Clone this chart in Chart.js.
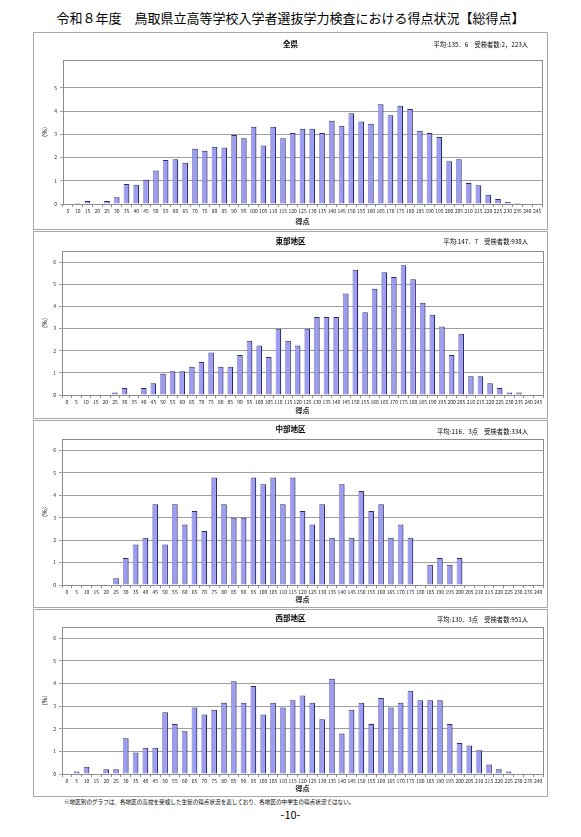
<!DOCTYPE html>
<html lang="ja">
<head>
<meta charset="utf-8">
<title>得点状況【総得点】</title>
<script src="https://cdn.jsdelivr.net/npm/chart.js@4.4.1/dist/chart.umd.min.js"></script>
<style>
  body { margin: 0; width: 581px; height: 837px; background: #fff; position: relative; overflow: hidden;
         font-family: "Noto Sans CJK JP", "Noto Sans", sans-serif; color: #000; }
  .txt { position: absolute; white-space: nowrap; line-height: 1; }
  .box { position: absolute; border: 1px solid #a8a8a8; box-sizing: border-box; }
  canvas { position: absolute; }
</style>
</head>
<body>
<div class="txt" style="left:0;width:581px;text-align:center;top:11px;font-size:13px;">令和８年度　鳥取県立高等学校入学者選抜学力検査における得点状況【総得点】</div>
<div id="panels"></div>
<div class="txt" style="left:64px;top:800px;font-size:5.6px;">※地区別のグラフは、各地区の高校を受検した生徒の得点状況を表しており、各地区の中学生の得点状況ではない。</div>
<div class="txt" style="left:0;width:581px;text-align:center;top:809px;font-size:11px;">-10-</div>

<script>
'use strict';

// tick labels (得点)
const labels5to245 = ['5','10','15','20','25','30','35','40','45','50','55','60','65','70','75','80','85','90','95','100',
    '105','110','115','120','125','130','135','140','145','150','155','160','165','170','175','180','185','190','195','200',
    '205','210','215','220','225','230','235','240','245'];
const labels0to245 = ['0','5','10','15','20','25','30','35','40','45','50','55','60','65','70','75','80','85','90','95','100',
    '105','110','115','120','125','130','135','140','145','150','155','160','165','170','175','180','185','190','195','200',
    '205','210','215','220','225','230','235','240','245'];
const labels0to240 = ['0','5','10','15','20','25','30','35','40','45','50','55','60','65','70','75','80','85','90','95','100',
    '105','110','115','120','125','130','135','140','145','150','155','160','165','170','175','180','185','190','195','200',
    '205','210','215','220','225','230','235','240'];

// (%) per score band
const zenken = [0, 0.05, 0.13, 0, 0.13, 0.29, 0.86, 0.83, 1.04, 1.44, 1.89, 1.93, 1.78, 2.38, 2.29, 2.47, 2.43,
    2.97, 2.83, 3.33, 2.52, 3.33, 2.83, 3.06, 3.24, 3.24, 3.06, 3.58, 3.37, 3.91, 3.55, 3.46, 4.30, 3.82, 4.23,
    4.09, 3.15, 3.06, 2.88, 1.84, 1.93, 0.90, 0.81, 0.40, 0.22, 0.09, 0.04, 0, 0];
const toubu = [0, 0, 0, 0, 0, 0.11, 0.32, 0, 0.32, 0.53, 0.96, 1.07, 1.07, 1.28, 1.49, 1.92, 1.28, 1.28, 1.81,
    2.45, 2.24, 1.71, 2.99, 2.45, 2.24, 2.99, 3.52, 3.52, 3.52, 4.58, 5.65, 3.73, 4.80, 5.54, 5.33, 5.86, 5.22,
    4.16, 3.62, 3.09, 1.81, 2.77, 0.85, 0.85, 0.53, 0.32, 0.11, 0.11, 0, 0];
const chubu = [0, 0, 0, 0, 0, 0.30, 1.20, 1.80, 2.10, 3.59, 1.80, 3.59, 2.69, 3.29, 2.40, 4.79, 3.59, 2.99, 2.99,
    4.79, 4.49, 4.79, 3.59, 4.79, 3.29, 2.69, 3.59, 2.10, 4.49, 2.10, 4.19, 3.29, 3.59, 2.10, 2.69, 2.10, 0,
    0.90, 1.20, 0.90, 1.20, 0, 0, 0, 0, 0, 0, 0, 0];
const seibu = [0, 0.11, 0.32, 0, 0.21, 0.21, 1.58, 0.95, 1.16, 1.16, 2.73, 2.21, 1.89, 2.94, 2.63, 2.84, 3.15,
    4.10, 3.15, 3.89, 2.63, 3.15, 2.94, 3.26, 3.47, 3.15, 2.42, 4.21, 1.79, 2.84, 3.15, 2.21, 3.36, 2.94, 3.15,
    3.68, 3.26, 3.26, 3.26, 2.21, 1.37, 1.26, 1.05, 0.42, 0.21, 0.11, 0, 0, 0];

const panelNames = ['全県', '東部地区', '中部地区', '西部地区'];
const panelInfo = ['平均:135．6　受検者数:2，223人', '平均:147．7　受検者数:938人',
    '平均:116．3点　受検者数:334人', '平均:130．3点　受検者数:951人'];
const panelLabels = [labels5to245, labels0to245, labels0to240, labels0to240];
const panelValues = [zenken, toubu, chubu, seibu];
const panelMax = [6.2, 6.5, 6.5, 6.5];

// layout: box [x, y, w, h], plot [left, top, right, bottom], title centre y
const layout = [
    { box: [33, 32, 515, 198], plot: [63, 60, 542, 204], ty: 44, iy: 45 },
    { box: [33, 231, 515, 188], plot: [62, 251, 543, 395], ty: 241, iy: 242 },
    { box: [33, 420, 515, 188], plot: [62, 439, 543, 585], ty: 429, iy: 432 },
    { box: [33, 609, 515, 188], plot: [62, 627, 543, 774], ty: 618, iy: 620 },
];

Chart.defaults.font.family = '"Noto Sans CJK JP", "Noto Sans", sans-serif';
Chart.defaults.color = '#222';

const plotFrame = {
    id: 'plotFrame',
    afterDraw(chart) {
	const a = chart.chartArea;
	const ctx = chart.ctx;
	ctx.save();
	ctx.strokeStyle = '#8c8c8c';
	ctx.lineWidth = 1;
	ctx.strokeRect(Math.round(a.left) + 0.5, Math.round(a.top) + 0.5,
		       Math.round(a.right - a.left), Math.round(a.bottom - a.top));
	ctx.restore();
    },
};

const host = document.getElementById('panels');

function addText(text, css) {
    const d = document.createElement('div');
    d.className = 'txt';
    d.textContent = text;
    Object.assign(d.style, css);
    host.appendChild(d);
}

function makePanel(i) {
    const L = layout[i];
    const [bx, by, bw, bh] = L.box;
    const [pl, pt, pr, pb] = L.plot;

    const box = document.createElement('div');
    box.className = 'box';
    Object.assign(box.style, { left: bx + 'px', top: by + 'px', width: bw + 'px', height: bh + 'px' });
    host.appendChild(box);

    const canv = document.createElement('canvas');
    canv.width = bw;
    canv.height = bh;
    Object.assign(canv.style, { left: bx + 'px', top: by + 'px', width: bw + 'px', height: bh + 'px' });
    host.appendChild(canv);

    addText(panelNames[i], { left: '0px', width: '581px', textAlign: 'center', top: (L.ty - 4) + 'px',
			     fontSize: '7.5px', fontWeight: 'bold' });
    addText(panelInfo[i], { right: (581 - 528) + 'px', top: (L.iy - 3) + 'px', fontSize: '6.3px' });

    const yWidth = pl - bx;
    const xHeight = by + bh - pb;

    new Chart(canv, {
	type: 'bar',
	data: {
	    labels: panelLabels[i],
	    datasets: [{
		data: panelValues[i],
		backgroundColor: '#9c9cf0',
		borderColor: '#2c2c6c',
		borderWidth: { top: 1, right: 1.2, left: 0.5, bottom: 0 },
		barPercentage: 0.58,
		categoryPercentage: 1,
	    }],
	},
	options: {
	    responsive: false,
	    animation: false,
	    layout: { padding: { left: 0, top: pt - by, right: bx + bw - pr, bottom: 0 } },
	    plugins: {
		legend: { display: false },
		tooltip: { enabled: false },
	    },
	    scales: {
		x: {
		    grid: { display: true, drawOnChartArea: false, tickLength: 3, color: '#8c8c8c' },
		    border: { color: '#8c8c8c' },
		    ticks: { font: { size: 5 }, maxRotation: 0, minRotation: 0, autoSkip: false, padding: 1 },
		    title: { display: true, text: '得点', font: { size: 7, weight: 'bold' },
			     padding: { top: 0, bottom: 4 } },
		    afterFit: s => { s.height = xHeight; },
		},
		y: {
		    min: 0,
		    max: panelMax[i],
		    ticks: { stepSize: 1, font: { size: 5 }, padding: 3 },
		    afterBuildTicks: s => { s.ticks = s.ticks.filter(t => Number.isInteger(t.value)); },
		    grid: { color: '#a0a0a0', tickLength: 3 },
		    border: { color: '#8c8c8c' },
		    title: { display: true, text: '（%）', font: { size: 6 }, padding: { top: 8 } },
		    afterFit: s => { s.width = yWidth; },
		},
	    },
	},
	plugins: [plotFrame],
    });
}

for (let i = 0; i < 4; i++) makePanel(i);
</script>
</body>
</html>
